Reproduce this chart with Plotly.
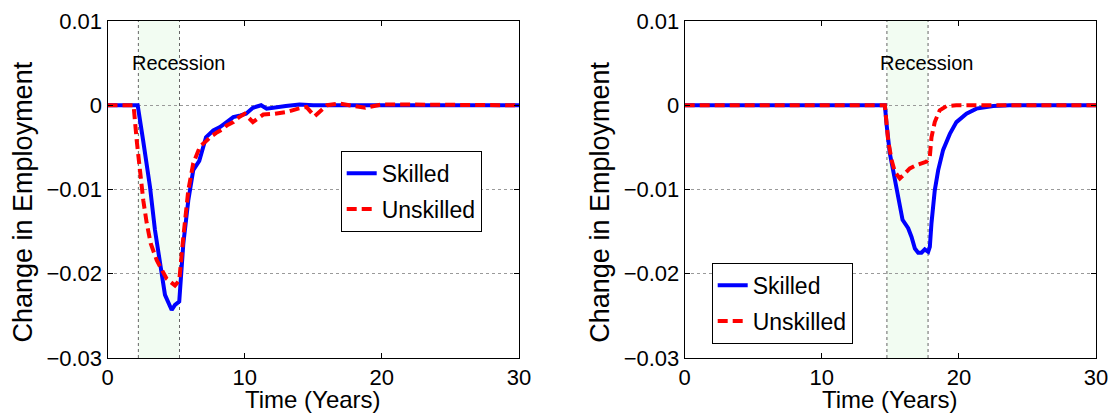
import plotly.graph_objects as go

# ---------------- data ----------------
# Left panel (recession early)
left_skilled_x = [0, 2.2, 2.6, 3.1, 3.46, 3.83, 4.19, 4.68, 4.92, 5.23, 5.53, 5.89, 6.25, 6.69,
                  7.18, 7.71, 8.2, 8.69, 9.17, 9.7, 10.1, 10.6, 11.2, 11.6, 12.3, 13.0, 14.0, 15.0, 30]
left_skilled_y = [0, 0, -0.0042, -0.0097, -0.0148, -0.0188, -0.0225, -0.0243, -0.0237, -0.0233,
                  -0.0164, -0.0113, -0.0077, -0.0066, -0.0038, -0.0030, -0.0026, -0.0020, -0.0014,
                  -0.0012, -0.0010, -0.0003, 0.0, -0.0004, -0.0002, -0.0001, 0.0001, 0.0, 0]

left_unskilled_x = [0, 1.9, 2.13, 2.37, 2.61, 2.86, 3.15, 3.59, 3.95, 4.31, 4.92, 5.23, 5.53, 5.89,
                    6.25, 6.74, 7.23, 7.47, 8.0, 8.44, 8.69, 9.17, 9.6, 10.0, 10.6, 11.36, 12.2,
                    13.06, 13.9, 14.5, 15.1, 16.0, 16.9, 17.7, 18.8, 20.0, 20.8, 22, 30]
left_unskilled_y = [0, 0, -0.0042, -0.0081, -0.0113, -0.0140, -0.0164, -0.0184, -0.0196, -0.0206,
                    -0.0214, -0.0208, -0.0156, -0.0101, -0.0069, -0.0049, -0.0042, -0.0038, -0.0032,
                    -0.0028, -0.0024, -0.0020, -0.0014, -0.0010, -0.0020, -0.0011, -0.0010, -0.0008,
                    -0.0004, -0.0002, -0.0013, 0.0, 0.0002, 0.0, -0.0003, 0.0001, 0.0001, 0, 0]

# Right panel (recession late)
right_skilled_x = [0, 14.6, 14.72, 14.96, 15.2, 15.45, 15.69, 15.89, 16.3, 16.54, 16.79, 17.03,
                   17.27, 17.51, 17.76, 17.88, 18.0, 18.24, 18.49, 18.85, 19.34, 19.82, 20.55,
                   21.28, 22.5, 23.7, 30]
right_skilled_y = [0, 0, -0.0022, -0.0057, -0.0077, -0.0097, -0.0121, -0.0136, -0.0146, -0.0156,
                   -0.0170, -0.0175, -0.0175, -0.0171, -0.0174, -0.0168, -0.0140, -0.0101, -0.0077,
                   -0.0053, -0.0034, -0.0020, -0.0010, -0.0004, -0.0001, 0, 0]

right_unskilled_x = [0, 14.6, 14.84, 15.09, 15.33, 15.69, 16.06, 16.42, 16.91, 17.64, 17.88, 18.0,
                     18.24, 18.6, 19.1, 19.8, 30]
right_unskilled_y = [0, 0, -0.0042, -0.0065, -0.0079, -0.0087, -0.0081, -0.0075, -0.0071, -0.0067,
                     -0.0061, -0.0038, -0.0020, -0.0006, -0.0001, 0, 0]

recession_left = [2.25, 5.25]
recession_right = [14.75, 17.75]

x_tickvals = [0, 10, 20, 30]
x_ticktext = ["0", "10", "20", "30"]
y_tickvals = [0.01, 0, -0.01, -0.02, -0.03]
y_ticktext = ["0.01", "0", "\u22120.01", "\u22120.02", "\u22120.03"]

series_names = ["Skilled", "Unskilled"]
recession_label = "Recession"
x_title = "Time (Years)"
y_title = "Change in Employment"

# ---------------- figure ----------------
FONT = "Liberation Sans, Arial, Helvetica, sans-serif"
W, H = 1116, 415
OFF = 8  # page body margin in the browser


def px_x(p):
    return (p - OFF) / W


def px_y(p):
    return 1 - (p - OFF) / H


fig = go.Figure()

blue = dict(color="#0000ff", width=4)
red = dict(color="#ff0000", width=4, dash="10px,5px")

fig.add_trace(go.Scatter(x=left_skilled_x, y=left_skilled_y, mode="lines", line=blue,
                         name=series_names[0], xaxis="x", yaxis="y", legend="legend",
                         legendgroup="a"))
fig.add_trace(go.Scatter(x=left_unskilled_x, y=left_unskilled_y, mode="lines", line=red,
                         name=series_names[1], xaxis="x", yaxis="y", legend="legend",
                         legendgroup="b"))
fig.add_trace(go.Scatter(x=right_skilled_x, y=right_skilled_y, mode="lines", line=blue,
                         name=series_names[0], xaxis="x2", yaxis="y2", legend="legend2",
                         legendgroup="c"))
fig.add_trace(go.Scatter(x=right_unskilled_x, y=right_unskilled_y, mode="lines", line=red,
                         name=series_names[1], xaxis="x2", yaxis="y2", legend="legend2",
                         legendgroup="d"))

ydom = [px_y(358), px_y(21)]
xdom1 = [px_x(107.5), px_x(519)]
xdom2 = [px_x(684.7), px_x(1096)]

common_x = dict(range=[0, 30], tickvals=x_tickvals, ticktext=x_ticktext, showgrid=False,
                zeroline=False, showline=True, linecolor="black", linewidth=1, mirror="ticks",
                ticks="inside", ticklen=5, tickcolor="black", automargin=False,
                tickfont=dict(family=FONT, size=22, color="black"))
common_y = dict(range=[-0.03, 0.01], tickvals=y_tickvals, ticktext=y_ticktext, showgrid=True,
                gridcolor="#9a9a9a", griddash="dot", gridwidth=1, automargin=False,
                zeroline=False, showline=True, linecolor="black", linewidth=1, mirror="ticks",
                ticks="inside", ticklen=5, tickcolor="black", domain=ydom,
                tickfont=dict(family=FONT, size=22, color="black"))

legend_common = dict(xanchor="left", yanchor="top", bordercolor="black", borderwidth=1,
                     bgcolor="white", font=dict(family=FONT, size=23, color="black"),
                     tracegroupgap=3, itemwidth=30, entrywidth=105, entrywidthmode="pixels")

fig.update_layout(
    width=W, height=H, autosize=False,
    margin=dict(l=0, r=0, t=0, b=0, pad=0, autoexpand=False),
    paper_bgcolor="white", plot_bgcolor="white",
    font=dict(family=FONT, color="black"),
    xaxis=dict(domain=xdom1, anchor="y", **common_x),
    yaxis=dict(anchor="x", **common_y),
    xaxis2=dict(domain=xdom2, anchor="y2", **common_x),
    yaxis2=dict(anchor="x2", **common_y),
    legend=dict(x=px_x(340.7), y=px_y(150.7), **legend_common),
    legend2=dict(x=px_x(711.7), y=px_y(262.7), **legend_common),
    showlegend=True,
)

shapes = []
annotations = []
for (r0, r1), xr in [(recession_left, "x"), (recession_right, "x2")]:
    yr = "y" if xr == "x" else "y2"
    shapes.append(dict(type="rect", xref=xr, yref=yr + " domain", x0=r0, x1=r1, y0=0, y1=1,
                       fillcolor="#f2fcf2", line=dict(width=0), layer="below"))
    for xv in (r0, r1):
        shapes.append(dict(type="line", xref=xr, yref=yr + " domain", x0=xv, x1=xv, y0=0, y1=1,
                           line=dict(color="#666666", width=1, dash="dot"), layer="below"))
    annotations.append(dict(xref=xr, yref=yr, x=r0 + 2.9, y=0.005, text=recession_label,
                            showarrow=False, font=dict(family=FONT, size=20, color="black"),
                            xanchor="center", yanchor="middle"))

for dom in (xdom1, xdom2):
    annotations.append(dict(xref="paper", yref="paper", x=(dom[0] + dom[1]) / 2, y=px_y(399),
                            text=x_title, showarrow=False, xanchor="center", yanchor="middle",
                            font=dict(family=FONT, size=24, color="black")))
    annotations.append(dict(xref="paper", yref="paper", x=dom[0] - 85 / W, y=px_y(202),
                            text=y_title, showarrow=False, textangle=-90, xanchor="center",
                            yanchor="middle", font=dict(family=FONT, size=27, color="black")))

fig.update_layout(shapes=shapes, annotations=annotations)
fig.write_html("out.html")
